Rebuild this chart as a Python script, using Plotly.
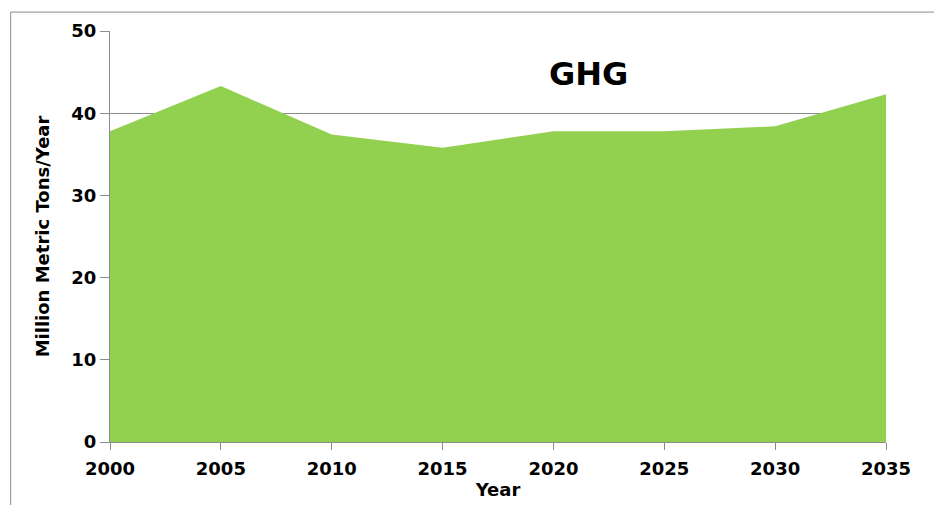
import plotly.graph_objects as go

years = [2000, 2005, 2010, 2015, 2020, 2025, 2030, 2035]
ghg = [37.8, 43.3, 37.4, 35.8, 37.8, 37.8, 38.4, 42.3]
x_ticks = [2000, 2005, 2010, 2015, 2020, 2025, 2030, 2035]
y_ticks = [0, 10, 20, 30, 40, 50]

FONT = "DejaVu Sans"
grey = "#8c8c8c"

fig = go.Figure()
fig.add_trace(go.Scatter(
    x=years, y=ghg, mode="lines", fill="tozeroy",
    fillcolor="#92D050", line=dict(color="#92D050", width=0),
    hoverinfo="x+y", showlegend=False,
))

fig.update_layout(
    width=942, height=505,
    margin=dict(l=102, r=64, t=21, b=71),
    paper_bgcolor="white", plot_bgcolor="white",
    font=dict(family=FONT, color="black"),
    xaxis=dict(
        range=[2000, 2035], tickvals=x_ticks, ticktext=[str(t) for t in x_ticks],
        showgrid=False, zeroline=False, showline=True, linecolor=grey, linewidth=1,
        ticks="outside", ticklen=7, tickcolor=grey, tickwidth=1, ticklabelstandoff=3,
        tickfont=dict(family=FONT, size=18, color="black", weight="bold"),
        title=dict(text="<b>Year</b>", font=dict(family=FONT, size=18, color="black"), standoff=5),
    ),
    yaxis=dict(
        range=[0, 50], tickvals=y_ticks,
        showgrid=True, gridcolor=grey, gridwidth=1, zeroline=False,
        showline=True, linecolor=grey, linewidth=1,
        ticks="outside", ticklen=9, tickcolor=grey, tickwidth=1,
        tickfont=dict(family=FONT, size=18, color="black", weight="bold"),
        title=dict(text="<b>Million Metric Tons/Year</b>", font=dict(family=FONT, size=18, color="black"), standoff=17),
    ),
    annotations=[dict(
        x=0.617, y=0.895, xref="paper", yref="paper", text="<b>GHG</b>",
        showarrow=False, font=dict(family=FONT, size=32, color="black"),
        xanchor="center", yanchor="middle",
    )],
    shapes=[dict(
        type="rect", xref="paper", yref="paper",
        x0=-0.128, x1=1.2, y0=-0.3, y1=1.046,
        line=dict(color=grey, width=1), fillcolor="rgba(0,0,0,0)", layer="below",
    )],
)

fig.write_html("out.html")
